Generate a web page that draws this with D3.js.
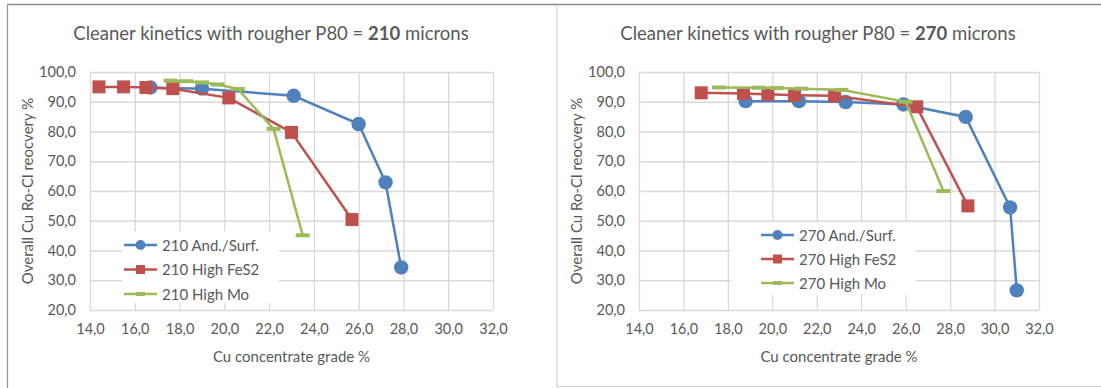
<!DOCTYPE html>
<html><head><meta charset="utf-8">
<script src="https://cdn.jsdelivr.net/npm/d3@7"></script>
<style>body{margin:0;background:#fff}svg{display:block}text{font-family:Lato,"Open Sans",sans-serif;fill:#595959}</style>
</head><body><svg id="c" width="1101" height="388"></svg>
<script>
// ---- data ----
const xTicks = [14,16,18,20,22,24,26,28,30,32];
const yTicks = [20,30,40,50,60,70,80,90,100];
const seriesNames210 = ["210 And./Surf.","210 High FeS2","210 High Mo"];
const seriesNames270 = ["270 And./Surf.","270 High FeS2","270 High Mo"];
const and210x = [16.7,19.0,23.1,26.0,27.2,27.9];
const and210y = [94.8,94.4,92.0,82.5,62.9,34.3];
const fes210x = [14.4,15.5,16.5,17.7,20.2,23.0,25.7];
const fes210y = [95.0,95.0,94.8,94.4,91.3,79.7,50.4];
const mo210x = [17.6,18.3,19.0,19.7,20.6,22.2,23.5];
const mo210y = [97.1,96.9,96.5,95.8,94.3,80.9,45.1];
const and270x = [18.8,21.2,23.3,25.9,28.7,30.7,31.0];
const and270y = [90.2,90.2,89.9,89.1,84.9,54.5,26.6];
const fes270x = [16.8,18.7,19.8,21.0,22.8,26.5,28.8];
const fes270y = [93.0,92.8,92.5,92.2,92.0,88.3,55.0];
const mo270x = [17.6,19.4,20.2,21.3,23.1,26.0,27.7];
const mo270y = [94.8,94.7,94.6,94.4,94.0,90.0,60.0];

const colors = ["#4f81bd","#c0504d","#9bbb59"];
const shapes = ["circle","square","dash"];
const fmt = v => v.toFixed(1).replace(".", ",");
const svg = d3.select("#c");

// frame lines
svg.append("line").attr("x1",7).attr("x2",1101).attr("y1",4.5).attr("y2",4.5).attr("stroke","#8c8c8c").attr("stroke-width",1.5);
svg.append("line").attr("x1",7.5).attr("x2",7.5).attr("y1",4).attr("y2",388).attr("stroke","#9a9a9a").attr("stroke-width",1.2);
svg.append("line").attr("x1",557).attr("x2",557).attr("y1",6).attr("y2",388).attr("stroke","#dcdcdc").attr("stroke-width",1.5);
svg.append("line").attr("x1",557).attr("x2",1101).attr("y1",386.5).attr("y2",386.5).attr("stroke","#dcdcdc").attr("stroke-width",1.5);

function chart(cfg){
  const g = svg.append("g");
  const x = d3.scaleLinear().domain([14,32]).range([cfg.left,cfg.right]);
  const y = d3.scaleLinear().domain([20,100]).range([310,72]);
  // grid
  g.append("g").attr("transform","translate(0,0)")
    .call(d3.axisLeft(y).tickValues(yTicks).tickSize(-(cfg.right-cfg.left)).tickFormat(""))
    .attr("transform",`translate(${cfg.left},0)`)
    .call(a=>{a.select(".domain").remove();a.selectAll("line").attr("stroke","#d9d9d9").attr("stroke-width",1.3);});
  g.append("g").attr("transform","translate(0,310)")
    .call(d3.axisBottom(x).tickValues(xTicks).tickSize(-238).tickFormat(""))
    .call(a=>{a.select(".domain").remove();a.selectAll("line").attr("stroke","#d9d9d9").attr("stroke-width",1.3);});
  // tick labels
  g.append("g").attr("transform",`translate(${cfg.left},0)`)
    .call(d3.axisLeft(y).tickValues(yTicks).tickSize(0).tickPadding(14).tickFormat(fmt))
    .call(a=>{a.select(".domain").remove();a.selectAll("text").style("font-size","14.5px").attr("fill","#595959");});
  g.append("g").attr("transform","translate(0,310)")
    .call(d3.axisBottom(x).tickValues(xTicks).tickSize(0).tickPadding(14).tickFormat(fmt))
    .call(a=>{a.select(".domain").remove();a.selectAll("text").style("font-size","14.5px").attr("fill","#595959");});
  // titles
  const t = g.append("text").attr("x",cfg.titleX).attr("y",40).attr("text-anchor","middle").style("font-size","18.5px");
  t.append("tspan").text("Cleaner kinetics with rougher P80 = ");
  t.append("tspan").attr("font-weight","bold").text(cfg.p80);
  t.append("tspan").text(" microns");
  g.append("text").attr("x",(cfg.left+cfg.right)/2).attr("y",362).attr("text-anchor","middle").style("font-size","15px").text("Cu concentrate grade %");
  g.append("text").attr("transform",`translate(${cfg.yTitleX},191) rotate(-90)`).attr("text-anchor","middle").style("font-size","15px").text("Overall Cu Ro-Cl reocvery %");
  // legend background
  const L = cfg.legend;
  g.append("rect").attr("x",L.bx).attr("y",L.by).attr("width",L.bw).attr("height",L.bh).attr("fill","#fff");
  // series
  cfg.series.forEach((s,i)=>{
    const pts = s.xs.map((v,k)=>[v,s.ys[k]]);
    g.append("path").datum(pts).attr("fill","none").attr("stroke",colors[i]).attr("stroke-width",2.5)
      .attr("d",d3.line().x(d=>x(d[0])).y(d=>y(d[1])));
    drawMarkers(g, pts.map(d=>[x(d[0]),y(d[1])]), i);
    // legend entry
    const ly = L.y0 + i*L.dy;
    g.append("line").attr("x1",L.lx).attr("x2",L.lx+33).attr("y1",ly).attr("y2",ly).attr("stroke",colors[i]).attr("stroke-width",2.5);
    drawMarkers(g, [[L.lx+16.5,ly]], i, true);
    g.append("text").attr("x",L.lx+38).attr("y",ly+5.5).style("font-size","15px").text(s.name);
  });
}
function drawMarkers(g, pts, i, small){
  const c = colors[i];
  if(shapes[i]==="circle"){
    g.selectAll(null).data(pts).join("circle").attr("cx",d=>d[0]).attr("cy",d=>d[1]).attr("r",small?5:7.2).attr("fill",c);
  } else if(shapes[i]==="square"){
    const s = small?9:13;
    g.selectAll(null).data(pts).join("rect").attr("x",d=>d[0]-s/2).attr("y",d=>d[1]-s/2).attr("width",s).attr("height",s).attr("fill",c);
  } else {
    const w = small?9:14;
    g.selectAll(null).data(pts).join("rect").attr("x",d=>d[0]-w/2).attr("y",d=>d[1]-2).attr("width",w).attr("height",4).attr("fill",c);
  }
}

chart({left:90,right:493,p80:"210",titleX:271,yTitleX:33,
  series:[{name:seriesNames210[0],xs:and210x,ys:and210y},{name:seriesNames210[1],xs:fes210x,ys:fes210y},{name:seriesNames210[2],xs:mo210x,ys:mo210y}],
  legend:{bx:122,by:231,bw:157,bh:72,lx:124,y0:245,dy:24.5}});
chart({left:639,right:1039,p80:"270",titleX:818,yTitleX:582,
  series:[{name:seriesNames270[0],xs:and270x,ys:and270y},{name:seriesNames270[1],xs:fes270x,ys:fes270y},{name:seriesNames270[2],xs:mo270x,ys:mo270y}],
  legend:{bx:731,by:222,bw:185,bh:73,lx:761,y0:235,dy:24}});
</script></body></html>
